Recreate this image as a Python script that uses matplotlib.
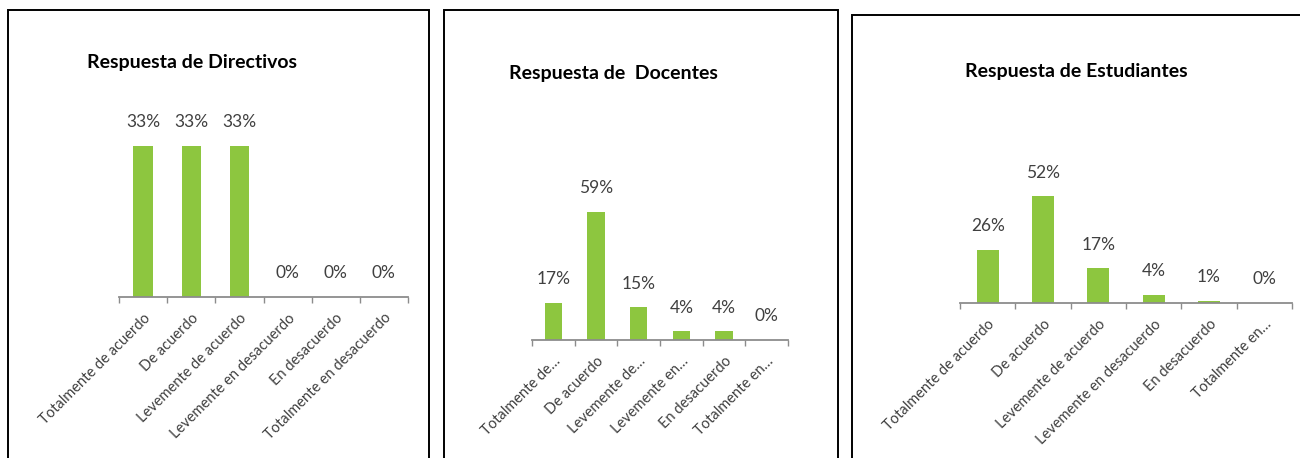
import matplotlib
matplotlib.use("Agg")
import matplotlib.pyplot as plt
from matplotlib.patches import Rectangle

plt.rcParams['font.family'] = ['Lato', 'DejaVu Sans']

# ---------------- data ----------------
cats_full = ["Totalmente de acuerdo", "De acuerdo", "Levemente de acuerdo",
             "Levemente en desacuerdo", "En desacuerdo", "Totalmente en desacuerdo"]
cats_docentes = ["Totalmente de…", "De acuerdo", "Levemente de…",
                 "Levemente en…", "En desacuerdo", "Totalmente en…"]
cats_estudiantes = ["Totalmente de acuerdo", "De acuerdo", "Levemente de acuerdo",
                    "Levemente en desacuerdo", "En desacuerdo", "Totalmente en…"]

directivos = [33, 33, 33, 0, 0, 0]
docentes = [17, 59, 15, 4, 4, 0]
estudiantes = [26, 52, 17, 4, 1, 0]

titles = ["Respuesta de Directivos", "Respuesta de  Docentes", "Respuesta de Estudiantes"]

# ---------------- layout (pixels) ----------------
W, H = 1300, 458
fig = plt.figure(figsize=(W / 100, H / 100), dpi=100)
fig.patch.set_facecolor("white")

GREEN = "#8DC63F"
AXIS_GRAY = "#8C8C8C"
TEXT_GRAY = "#404040"


def rect(left, right, top, bottom):
    return [left / W, 1 - bottom / H, (right - left) / W, (bottom - top) / H]


panels = [
    # (axes left, right, top, baseline, px per %, border box, title center)
    dict(cats=cats_full, vals=directivos, ax=(119, 408, 90, 297), ppp=4.576,
         box=(8, 10, 429, 470), tc=(192, 63)),
    dict(cats=cats_docentes, vals=docentes, ax=(532, 788, 90, 340), ppp=2.17,
         box=(444, 10, 838, 470), tc=(613, 74)),
    dict(cats=cats_estudiantes, vals=estudiantes, ax=(960, 1292, 90, 303), ppp=2.05,
         box=(852, 15, 1310, 470), tc=(1076, 72)),
]

for p, title in zip(panels, titles):
    l, r, t, b = p["ax"]
    ax = fig.add_axes(rect(l, r, t, b))
    x = list(range(len(p["vals"])))
    ax.bar(x, p["vals"], width=0.4, color=GREEN)
    ax.set_xlim(-0.5, len(x) - 0.5)
    ax.set_ylim(0, (b - t) / p["ppp"])
    for xi, v in zip(x, p["vals"]):
        ax.annotate(f"{v}%", (xi, v), xytext=(0, 17), textcoords="offset points",
                    ha="center", va="center", fontsize=12.5, color=TEXT_GRAY)
    for s in ("top", "right", "left"):
        ax.spines[s].set_visible(False)
    ax.spines["bottom"].set_color(AXIS_GRAY)
    ax.spines["bottom"].set_linewidth(1.3)
    ax.set_yticks([])
    ax.set_xticks(x)
    ax.set_xticklabels(p["cats"], rotation=45, ha="right", rotation_mode="anchor",
                       fontsize=10.5, color=TEXT_GRAY)
    ax.tick_params(axis="x", which="major", length=0, pad=10)
    ax.set_xticks([i - 0.5 for i in range(len(x) + 1)], minor=True)
    ax.tick_params(axis="x", which="minor", length=4, direction="out",
                   color=AXIS_GRAY, width=1)
    ax.patch.set_alpha(0)

    bx0, by0, bx1, by1 = p["box"]
    fig.patches.append(Rectangle((bx0 / W, 1 - by1 / H), (bx1 - bx0) / W, (by1 - by0) / H,
                                 transform=fig.transFigure, fill=False,
                                 edgecolor="black", linewidth=1.4, clip_on=False))
    fig.text(p["tc"][0] / W, 1 - p["tc"][1] / H, title, ha="center", va="center",
             fontsize=14, fontweight="bold", color="black")

fig.savefig("out.png", dpi=100, facecolor="white")
